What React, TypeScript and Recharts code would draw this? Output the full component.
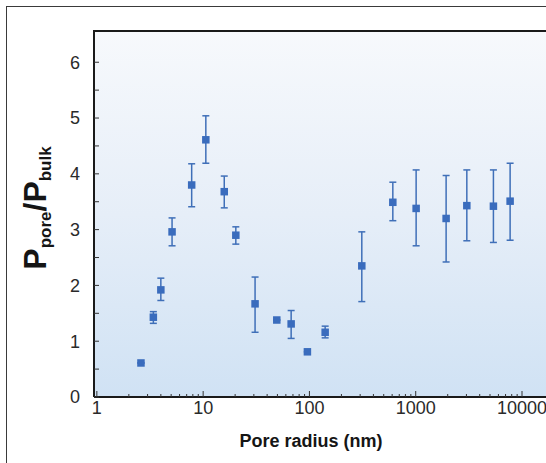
import React from "react";
import {
  ScatterChart,
  Scatter,
  XAxis,
  YAxis,
  ErrorBar,
  CartesianGrid,
} from "recharts";

const radius = [2.6, 3.4, 4.0, 5.1, 7.8, 10.6, 15.8, 20.3, 30.8, 49.3, 67.3, 95.7, 140.6, 311, 609, 1009, 1932, 3026, 5383, 7730];
const ratio = [0.61, 1.43, 1.92, 2.96, 3.8, 4.61, 3.68, 2.9, 1.67, 1.38, 1.31, 0.81, 1.16, 2.35, 3.49, 3.38, 3.2, 3.43, 3.42, 3.51];
const errLow = [0, 0.11, 0.19, 0.25, 0.39, 0.42, 0.29, 0.16, 0.51, 0, 0.26, 0, 0.1, 0.64, 0.33, 0.67, 0.78, 0.63, 0.65, 0.7];
const errHigh = [0, 0.1, 0.21, 0.25, 0.38, 0.43, 0.28, 0.15, 0.48, 0, 0.24, 0, 0.11, 0.61, 0.36, 0.69, 0.77, 0.64, 0.65, 0.68];

const xTicks = [1, 10, 100, 1000, 10000];
const minorSteps = [2, 3, 4, 5, 6, 7, 8, 9];
const yTicks = [0, 0.5, 1, 1.5, 2, 2.5, 3, 3.5, 4, 4.5, 5, 5.5, 6];

const X_DOMAIN: [number, number] = [0.94, 20000];
const Y_MAX = 6.56;

const allXTicks = xTicks
  .flatMap((d) => [d, ...minorSteps.map((m) => m * d)])
  .filter((v) => v < X_DOMAIN[1]);

const data = radius.map((r, i) => ({
  r,
  p: ratio[i],
  err: [errLow[i], errHigh[i]],
}));

const FONT = "'Liberation Sans', Arial, Helvetica, sans-serif";
const BLUE = "#3a6cbd";
const MARGIN = { top: 31, right: 46, bottom: 0, left: 0 };
const Y_AXIS_W = 94;

const Square = (props: any) => (
  <rect x={props.cx - 3.75} y={props.cy - 3.75} width={7.5} height={7.5} fill={BLUE} />
);

// log axis tick: long inward tick + label on decades, short tick otherwise
const XTick = (props: any) => {
  const { x, y, payload } = props;
  const major = xTicks.includes(payload.value);
  return (
    <g>
      <line x1={x} x2={x} y1={y} y2={y - (major ? 6 : 3)} stroke="#333" strokeWidth={1} />
      {major && (
        <text x={x} y={y + 17} textAnchor="middle" fontFamily={FONT} fontSize={18} fill="#2a2a2a">
          {payload.value}
        </text>
      )}
    </g>
  );
};

const XLabel = ({ viewBox }: any) => (
  <text
    x={viewBox.x + 217}
    y={viewBox.y + 50}
    textAnchor="middle"
    fontFamily={FONT}
    fontWeight="bold"
    fontSize={18}
    fill="#151515"
  >
    Pore radius (nm)
  </text>
);

const YLabel = ({ viewBox }: any) => {
  const x = viewBox.x + 46;
  const y = viewBox.y + 177;
  return (
    <text
      x={x}
      y={y}
      transform={`rotate(-90 ${x} ${y})`}
      textAnchor="middle"
      fontFamily={FONT}
      fontWeight="bold"
      fill="#151515"
    >
      <tspan fontSize={32}>P</tspan>
      <tspan fontSize={17} dy={5}>pore</tspan>
      <tspan fontSize={32} dy={-5}>/P</tspan>
      <tspan fontSize={17} dy={5}>bulk</tspan>
    </text>
  );
};

export default function App() {
  return (
    <div
      style={{
        position: "absolute",
        left: 0,
        top: 0,
        width: 546,
        height: 463,
        overflow: "hidden",
        background: "#fff",
        fontFamily: FONT,
      }}
    >
      <div
        style={{
          position: "absolute",
          left: 6,
          top: 6,
          width: 700,
          height: 600,
          border: "1.5px solid #3a3a3a",
        }}
      />
      <div style={{ position: "absolute", left: 0, top: 0 }}>
        <ScatterChart width={600} height={463} margin={MARGIN}>
          <defs>
            <linearGradient id="plotBg" x1="0" y1="0" x2="0" y2="1">
              <stop offset="0%" stopColor="#f7f9fc" />
              <stop offset="50%" stopColor="#e6eef8" />
              <stop offset="100%" stopColor="#d0e2f4" />
            </linearGradient>
          </defs>
          <CartesianGrid horizontal={false} vertical={false} fill="url(#plotBg)" fillOpacity={1} />
          <XAxis
            type="number"
            dataKey="r"
            scale="log"
            domain={X_DOMAIN}
            allowDataOverflow
            ticks={allXTicks}
            interval={0}
            height={66}
            tickSize={0}
            tickMargin={0}
            tickLine={false}
            axisLine={{ stroke: "#1a1a1a", strokeWidth: 2 }}
            tick={XTick}
            label={{ content: XLabel }}
          />
          <YAxis
            type="number"
            dataKey="p"
            domain={[0, Y_MAX]}
            allowDataOverflow
            ticks={yTicks}
            interval={0}
            tickFormatter={(v: number) => (Number.isInteger(v) ? String(v) : "")}
            width={Y_AXIS_W}
            tickSize={-5}
            tickMargin={19}
            axisLine={{ stroke: "#1a1a1a", strokeWidth: 2 }}
            tickLine={{ stroke: "#333", strokeWidth: 1 }}
            tick={{ fontSize: 18, fill: "#2a2a2a", fontFamily: FONT }}
            label={{ content: YLabel }}
          />
          <Scatter data={data} shape={Square} isAnimationActive={false}>
            <ErrorBar dataKey="err" direction="y" width={3.5} stroke="#3f6fb8" strokeWidth={1.5} />
          </Scatter>
        </ScatterChart>
      </div>
      {/* top frame of the plot box */}
      <div
        style={{
          position: "absolute",
          left: MARGIN.left + Y_AXIS_W - 1,
          top: MARGIN.top - 1,
          width: 600,
          height: 2,
          background: "#1a1a1a",
        }}
      />
    </div>
  );
}
